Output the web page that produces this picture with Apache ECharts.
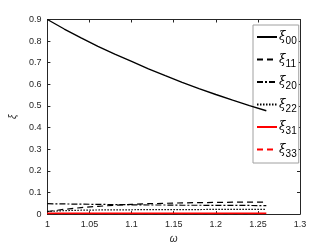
<!DOCTYPE html>
<html><head><meta charset="utf-8">
<script src="https://cdn.jsdelivr.net/npm/echarts@6/dist/echarts.min.js"></script>
<style>html,body{margin:0;padding:0;background:#fff}#c{width:332px;height:249px}</style>
</head><body><div id="c"></div>
<script>
const omega = [1.00,1.02,1.04,1.06,1.08,1.10,1.12,1.14,1.16,1.18,1.20,1.22,1.24,1.26];
const xi00 = [0.900,0.856,0.815,0.776,0.740,0.706,0.672,0.640,0.609,0.580,0.553,0.527,0.502,0.478];
const xi11 = [0.012,0.022,0.030,0.036,0.041,0.045,0.048,0.050,0.052,0.053,0.054,0.055,0.055,0.056];
const xi20 = [0.048,0.047,0.046,0.045,0.044,0.043,0.042,0.042,0.041,0.041,0.040,0.040,0.040,0.039];
const xi22 = [0.012,0.016,0.018,0.019,0.020,0.020,0.021,0.021,0.021,0.021,0.022,0.022,0.022,0.022];
const xi31 = [0.004,0.004,0.004,0.004,0.004,0.004,0.004,0.004,0.004,0.004,0.004,0.004,0.004,0.004];
const xi33 = [0.002,0.002,0.002,0.002,0.002,0.002,0.002,0.002,0.002,0.002,0.002,0.002,0.002,0.002];
const names = ['00','11','20','22','31','33'];
const seriesData = [xi00, xi11, xi20, xi22, xi31, xi33];
const colors = ['#000','#000','#000','#000','#ff0000','#ff0000'];
const types = ['solid',[6,4],[6,2,2,2],[1.5,1.5],'solid',[6,4]];
const widths = [1.4,1.2,1.2,1.2,1.4,1.2];
const font = 'Liberation Sans, Arial, sans-serif';
const axisCol = '#262626';
function mk(d){return omega.map((w,i)=>[w,d[i]]);}
const chart = echarts.init(document.getElementById('c'),null,{renderer:'canvas'});
const series = names.map((n,i)=>({
  name:n, type:'line', data:mk(seriesData[i]), symbol:'none', showSymbol:false,
  lineStyle:{color:colors[i], type:types[i], width:widths[i]}, itemStyle:{color:colors[i]},
  z: 10-i, animation:false
}));
const baseX = {type:'value', min:1, max:1.3, interval:0.05, splitLine:{show:false},
  axisLine:{show:true,onZero:false,lineStyle:{color:axisCol,width:1}},
  axisTick:{show:true,inside:true,length:3,lineStyle:{color:axisCol}}};
const baseY = {type:'value', min:0, max:0.9, interval:0.1, splitLine:{show:false},
  axisLine:{show:true,onZero:false,lineStyle:{color:axisCol,width:1}},
  axisTick:{show:true,inside:true,length:3,lineStyle:{color:axisCol}}};
chart.setOption({
  animation:false,
  grid:{left:43, right:32, top:19.5, bottom:27, containLabel:false},
  xAxis:[
    Object.assign({}, baseX, {position:'bottom', name:'ω', nameLocation:'middle', nameGap:16,
      nameTextStyle:{fontFamily:font, fontSize:10, color:axisCol, fontStyle:'italic'},
      axisLabel:{fontFamily:font, fontSize:9, color:axisCol, margin:6,
        formatter:v=>String(+v.toFixed(2))}}),
    Object.assign({}, baseX, {position:'top', axisLabel:{show:false}})
  ],
  yAxis:[
    Object.assign({}, baseY, {position:'left', name:'ξ', nameLocation:'middle', nameGap:20, nameRotate:90,
      nameTextStyle:{fontFamily:font, fontSize:10, color:axisCol, fontStyle:'italic'},
      axisLabel:{fontFamily:font, fontSize:9, color:axisCol, margin:6,
        formatter:v=>String(+v.toFixed(1))}}),
    Object.assign({}, baseY, {position:'right', axisLabel:{show:false}})
  ],
  legend:{
    orient:'vertical', left:253, top:25, width:40, height:128,
    padding:[6,2,4,3], itemGap:7, itemWidth:20, itemHeight:14,
    backgroundColor:'#fff', borderColor:'#a0a0a0', borderWidth:1,
    data:names,
    itemStyle:{opacity:0, borderWidth:0},
    formatter:n=>'{a|ξ}{b|'+n+'}',
    textStyle:{padding:[0,0,0,-3],
      rich:{a:{fontFamily:'DejaVu Serif, serif',fontStyle:'italic',fontSize:12,color:'#000'},
            b:{fontFamily:font,fontSize:10,color:'#000',padding:[9,0,0,0]}}}
  },
  series:series
});
</script></body></html>
